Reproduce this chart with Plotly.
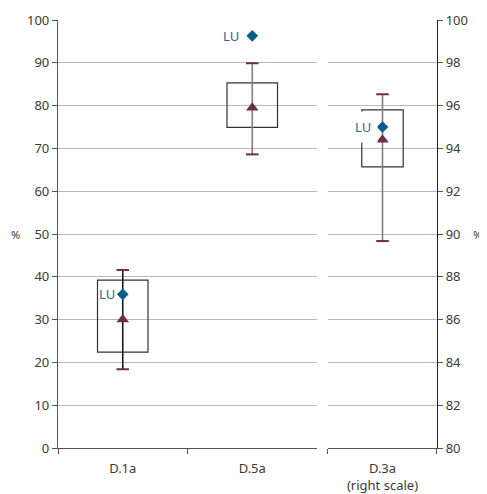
import plotly.graph_objects as go

# ---- data ----
left_cats = ["D.1a", "D.5a"]
left_min = [18.4, 68.6]
left_q1 = [22.4, 74.9]
left_mid = [30.0, 79.5]
left_q3 = [39.2, 85.3]
left_max = [41.6, 89.9]
left_lu = [35.9, 96.3]

right_cats = ["D.3a"]
right_labels = ["D.3a<br>(right scale)"]
right_min = [89.67]
right_q1 = [93.14]
right_mid = [94.4]
right_q3 = [95.8]
right_max = [96.53]
right_lu = [95.0]

lu_label = "LU"
left_ticks = [0, 10, 20, 30, 40, 50, 60, 70, 80, 90, 100]
right_ticks = [80, 82, 84, 86, 88, 90, 92, 94, 96, 98, 100]

# ---- styles ----
FONT = "Noto Sans"
TXT = "#3a3a3a"
GRID = "#b8b8b8"
AXIS = "#555555"
MAROON = "#6b2d47"
BLUE = "#0b5b88"
LUTXT = "#1d6893"
BOXLINE = "#333333"

fig = go.Figure()


def add_group(cats, mins, q1, mid, q3, maxs, lu, xa, ya, whisk_colors, width):
    fig.add_trace(go.Bar(
        x=cats, y=[b - a for a, b in zip(q1, q3)], base=q1, width=width,
        marker=dict(color="rgba(0,0,0,0)", line=dict(color=BOXLINE, width=1.2)),
        xaxis=xa, yaxis=ya, showlegend=False, hoverinfo="skip"))
    for c, lo, hi, col in zip(cats, mins, maxs, whisk_colors):
        fig.add_trace(go.Scatter(
            x=[c, c], y=[lo, hi], mode="lines",
            line=dict(color=col, width=1.6),
            xaxis=xa, yaxis=ya, showlegend=False, hoverinfo="skip"))
    fig.add_trace(go.Scatter(
        x=cats + cats, y=mins + maxs, mode="markers",
        marker=dict(symbol="line-ew", size=9, line=dict(color=MAROON, width=2)),
        xaxis=xa, yaxis=ya, showlegend=False, hoverinfo="skip"))
    fig.add_trace(go.Scatter(
        x=cats, y=mid, mode="markers",
        marker=dict(symbol="triangle-up", size=11, color=MAROON),
        xaxis=xa, yaxis=ya, showlegend=False, hoverinfo="skip"))
    fig.add_trace(go.Scatter(
        x=cats, y=lu, mode="markers",
        marker=dict(symbol="diamond", size=9, color=BLUE),
        xaxis=xa, yaxis=ya, showlegend=False, hoverinfo="skip"))


add_group(left_cats, left_min, left_q1, left_mid, left_q3, left_max, left_lu,
          "x", "y", ["#1a1a1a", "#7f7f7f"], 0.39)
add_group(right_cats, right_min, right_q1, right_mid, right_q3, right_max, right_lu,
          "x2", "y2", ["#7f7f7f"], 0.38)

# LU labels
lu_shifts = {"D.1a": -7, "D.5a": -12, "D.3a": -4}
for c, v in zip(left_cats, left_lu):
    fig.add_annotation(x=c, y=v, xref="x", yref="y", text=lu_label, showarrow=False,
                       xanchor="right", yanchor="middle", xshift=lu_shifts[c],
                       font=dict(family=FONT, size=13, color=LUTXT), borderpad=0)
for c, v in zip(right_cats, right_lu):
    fig.add_annotation(x=c, y=v, xref="x2", yref="y2", text=lu_label, showarrow=False,
                       xanchor="right", yanchor="middle", xshift=lu_shifts[c],
                       bgcolor="white", borderpad=6,
                       font=dict(family=FONT, size=13, color=LUTXT))

# % labels
fig.add_annotation(x=-0.111, y=0.5, xref="paper", yref="paper", text="%", showarrow=False,
                   xanchor="center", yanchor="middle",
                   font=dict(family=FONT, size=11, color=TXT))
fig.add_annotation(x=1.108, y=0.5, xref="paper", yref="paper", text="%", showarrow=False,
                   xanchor="center", yanchor="middle",
                   font=dict(family=FONT, size=11, color=TXT))

axis_font = dict(family=FONT, size=13, color=TXT)
fig.update_layout(
    width=479, height=486,
    margin=dict(l=50, r=50, t=12, b=46),
    plot_bgcolor="white", paper_bgcolor="white",
    barmode="overlay",
    font=dict(family=FONT, size=13, color=TXT),
    xaxis=dict(domain=[0, 0.6834], anchor="y", type="category",
               categoryorder="array", categoryarray=left_cats,
               tickson="boundaries", ticks="outside", ticklen=5, tickcolor=AXIS,
               showline=True, linecolor=AXIS, linewidth=1.2, showgrid=False,
               tickfont=axis_font, range=[-0.5, 1.5], automargin=False,
               ticklabelstandoff=8),
    xaxis2=dict(domain=[0.7124, 1], anchor="y2", type="category",
                categoryorder="array", categoryarray=right_cats,
                tickmode="array", tickvals=right_cats, ticktext=right_labels,
                tickson="boundaries", ticks="outside", ticklen=5, tickcolor=AXIS,
                showline=True, linecolor=AXIS, linewidth=1.2, showgrid=False,
                tickfont=axis_font, range=[-0.5, 0.5], automargin=False,
                ticklabelstandoff=8),
    yaxis=dict(range=[0, 100], tickvals=left_ticks, anchor="x", side="left",
               showline=True, linecolor=AXIS, linewidth=1.2,
               ticks="outside", ticklen=5, tickcolor=AXIS,
               showgrid=True, gridcolor=GRID, gridwidth=1, zeroline=False,
               tickfont=axis_font, automargin=False),
    yaxis2=dict(range=[80, 100], tickvals=right_ticks, anchor="x2", side="right",
                showline=True, linecolor="#222222", linewidth=1.2,
                ticks="outside", ticklen=5, tickcolor=AXIS,
                showgrid=True, gridcolor=GRID, gridwidth=1, zeroline=False,
                tickfont=axis_font, automargin=False),
)

fig.write_html("out.html")
